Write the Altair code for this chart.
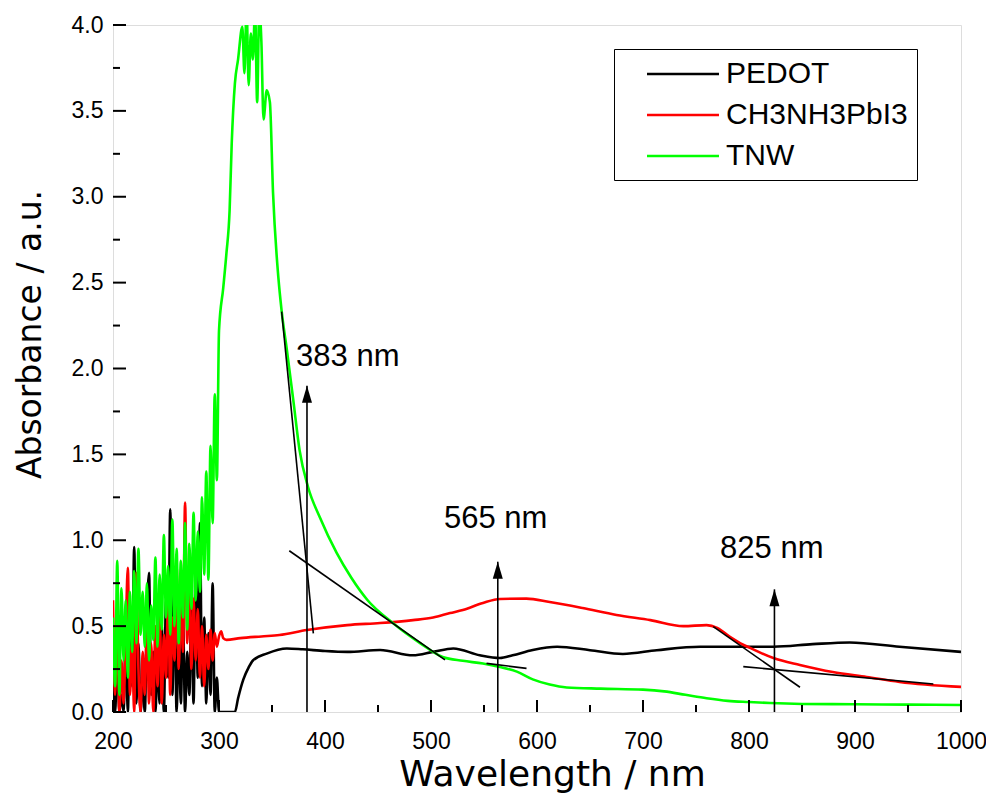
import altair as alt
import pandas as pd

W, H = 848, 687
FONT = "Liberation Sans"
TFONT = "DejaVu Sans"

# ---------------- data ----------------
noise_wl = list(range(200, 300, 2))

pedot_noise = [0.20, 0.00, 0.35, 0.00, 0.10, 0.00, 0.45, 0.00, 0.60, 0.15,
               0.96, 0.05, 0.40, 0.00, 0.20, 0.00, 0.55, 0.81, 0.10, 0.35,
               0.00, 0.30, 0.05, 0.50, 0.00, 0.65, 0.20, 1.18, 0.10, 0.70,
               0.00, 0.45, 0.05, 0.55, 0.00, 0.35, 0.10, 0.60, 0.05, 0.85,
               0.20, 1.10, 0.15, 0.55, 0.05, 0.46, 0.10, 0.75, 0.00, 0.20]
pedot_wl = [300, 305, 310, 315, 318, 323, 328, 332, 345, 364, 379, 400, 421, 452,
            483, 502, 521, 546, 565, 577, 596, 619, 650, 681, 713, 754, 801, 823,
            860, 895, 942, 1000]
pedot_abs = [0.0, 0.0, 0.0, 0.0, 0.08, 0.19, 0.26, 0.30, 0.34, 0.37, 0.365, 0.355,
             0.35, 0.361, 0.33, 0.35, 0.37, 0.33, 0.314, 0.33, 0.361, 0.38, 0.36,
             0.338, 0.36, 0.38, 0.38, 0.38, 0.395, 0.405, 0.38, 0.35]

mapi_noise = [0.65, 0.10, 0.55, 0.00, 0.30, 0.05, 0.45, 0.84, 0.10, 0.40,
              0.00, 0.81, 0.25, 0.00, 0.35, 0.10, 0.55, 0.05, 0.40, 0.00,
              0.50, 0.15, 0.62, 0.05, 0.45, 0.20, 0.70, 0.10, 0.55, 0.30,
              0.85, 0.25, 0.65, 0.35, 1.22, 0.40, 0.75, 0.25, 0.66, 0.30,
              0.60, 0.20, 0.50, 0.15, 0.45, 0.25, 0.48, 0.30, 0.46, 0.38]
mapi_wl = [300, 302, 304, 307, 320, 340, 357, 383, 421, 452, 483, 502, 518, 530,
           549, 565, 590, 612, 643, 675, 707, 738, 760, 770, 782, 792, 801, 823,
           848, 879, 911, 942, 1000]
mapi_abs = [0.44, 0.47, 0.43, 0.42, 0.43, 0.44, 0.448, 0.477, 0.506, 0.518, 0.535,
            0.55, 0.576, 0.594, 0.635, 0.658, 0.66, 0.64, 0.605, 0.565, 0.535, 0.50,
            0.506, 0.49, 0.437, 0.40, 0.373, 0.314, 0.274, 0.233, 0.204, 0.175, 0.146]

tnw_noise = [0.55, 0.15, 0.88, 0.10, 0.72, 0.30, 0.65, 0.20, 0.70, 0.35,
             0.82, 0.40, 0.95, 0.45, 0.70, 0.38, 0.75, 0.30, 0.62, 0.42,
             0.90, 0.38, 0.80, 0.48, 1.03, 0.55, 0.85, 0.45, 1.12, 0.50,
             0.95, 0.40, 0.88, 0.55, 1.10, 0.48, 0.98, 0.60, 1.16, 0.65,
             1.05, 0.70, 1.25, 0.80, 1.40, 0.77, 1.55, 1.10, 1.85, 1.35]
tnw_wl = [300, 304, 307, 310, 312, 315, 318, 322, 324, 326, 328, 330, 332, 334, 336,
          338, 340, 342, 345, 348, 351, 356, 359, 364, 370, 376, 384, 395, 411, 425,
          440, 464, 490, 511, 530, 549, 565, 581, 596, 612, 628, 660, 700, 720, 740,
          760, 780, 800, 820, 850, 900, 950, 1000]
tnw_abs = [2.22, 2.47, 2.67, 2.92, 3.31, 3.66, 3.80, 3.99, 3.72, 4.10, 3.65, 3.95,
           3.80, 4.10, 3.55, 4.10, 3.90, 3.45, 3.62, 3.55, 3.02, 2.53, 2.34, 2.11,
           1.82, 1.525, 1.31, 1.135, 0.926, 0.78, 0.652, 0.518, 0.40, 0.320, 0.298,
           0.282, 0.262, 0.235, 0.190, 0.16, 0.143, 0.136, 0.13, 0.12, 0.10, 0.08,
           0.065, 0.058, 0.052, 0.047, 0.045, 0.043, 0.041]

series_names = ["PEDOT", "CH3NH3PbI3", "TNW"]
series_colors = ["#000000", "#ff0000", "#00ff00"]

# tangent lines
tan_x1 = [359.1, 366.3, 552.4, 766.3, 794.6]
tan_y1 = [2.331, 0.939, 0.283, 0.497, 0.264]
tan_x2 = [389.0, 513.2, 590.1, 848.1, 973.9]
tan_y2 = [0.458, 0.303, 0.254, 0.144, 0.163]

# arrows and labels
arrow_x = [383, 563, 824]
arrow_tip = [1.90, 0.875, 0.714]
label_text = ["383 nm", "565 nm", "825 nm"]
label_x = [421.5, 561.0, 821.5]
label_y = [2.067, 1.124, 0.949]

x_major = list(range(200, 1001, 100))
x_minor = list(range(250, 1000, 100))
y_major = [0.0, 0.5, 1.0, 1.5, 2.0, 2.5, 3.0, 3.5, 4.0]
y_minor = [0.25, 0.75, 1.25, 1.75, 2.25, 2.75, 3.25, 3.75]

# ---------------- build tables ----------------
def series_df(name, wl, ab):
    return pd.DataFrame({"wl": wl, "abs": ab, "series": name})

df_pedot = series_df("PEDOT", noise_wl + pedot_wl, pedot_noise + pedot_abs)
df_mapi = series_df("CH3NH3PbI3", noise_wl + mapi_wl, mapi_noise + mapi_abs)
df_tnw = series_df("TNW", noise_wl + tnw_wl, tnw_noise + tnw_abs)

xs = alt.Scale(domain=[200, 1000], nice=False, zero=False)
ys = alt.Scale(domain=[0, 4], nice=False, zero=False)
cs = alt.Scale(domain=series_names, range=series_colors)

x_axis = alt.Axis(values=x_major, format="d", ticks=False, domain=False, grid=False,
                  labelFontSize=23, labelFont=FONT, labelColor="black",
                  labelPadding=18, labelFlush=False,
                  title="Wavelength / nm", titleFontSize=36, titleFont=TFONT,
                  titleFontWeight="normal", titleColor="black",
                  titleX=439, titleY=62, titleBaseline="middle")
y_axis = alt.Axis(values=y_major, format=".1f", ticks=False, domain=False, grid=False,
                  labelFontSize=23, labelFont=FONT, labelColor="black",
                  labelPadding=10,
                  title="Absorbance / a.u.", titleFontSize=33, titleFont=TFONT,
                  titleFontWeight="normal", titleColor="black",
                  titleX=-83, titleY=309, titleAngle=-90, titleAlign="center",
                  titleBaseline="middle")

legend = alt.Legend(title=None, orient="none", legendX=501, legendY=24,
                    symbolType="M-2.5,0L2.5,0", symbolSize=829, symbolStrokeWidth=2.5,
                    labelFontSize=30, labelFont=FONT, labelColor="black",
                    labelLimit=400, labelOffset=27, rowPadding=10, padding=9,
                    strokeColor="black", fillColor="white", symbolOffset=44)


def X(field):
    return alt.X(field, scale=xs, axis=x_axis)


def Y(field):
    return alt.Y(field, scale=ys, axis=y_axis)


def line_layer(df):
    return alt.Chart(df).mark_line(strokeWidth=2.6, clip=True,
                                   interpolate="monotone").encode(
        x=X("wl:Q"), y=Y("abs:Q"),
        color=alt.Color("series:N", scale=cs, legend=legend))


lines = [line_layer(df_pedot), line_layer(df_mapi), line_layer(df_tnw)]

tan_df = pd.DataFrame({"x1": tan_x1, "y1": tan_y1, "x2": tan_x2, "y2": tan_y2})
tangents = alt.Chart(tan_df).mark_rule(color="black", strokeWidth=1.6).encode(
    x=X("x1:Q"), y=Y("y1:Q"), x2="x2:Q", y2="y2:Q")

arr_df = pd.DataFrame({"x": arrow_x, "tip": arrow_tip, "base": [0, 0, 0]})
arrow_shafts = alt.Chart(arr_df).mark_rule(color="black", strokeWidth=1.6).encode(
    x=X("x:Q"), y=Y("base:Q"), y2="tip:Q")
arrow_heads = alt.Chart(arr_df).mark_point(
    shape="M0,0L0.59,2L-0.59,2Z", filled=True, color="black", opacity=1,
    size=289, strokeWidth=0).encode(x=X("x:Q"), y=Y("tip:Q"))

lab_df = pd.DataFrame({"t": label_text, "x": label_x, "y": label_y})
labels = alt.Chart(lab_df).mark_text(font=FONT, fontSize=31, color="black",
                                     align="center", baseline="middle").encode(
    x=X("x:Q"), y=Y("y:Q"), text="t:N")

# inward ticks
xt_major = alt.Chart(pd.DataFrame({"v": x_major})).mark_rule(
    color="black", strokeWidth=2).encode(
    x=X("v:Q"), y=alt.value(H), y2=alt.value(H - 12))
xt_minor = alt.Chart(pd.DataFrame({"v": x_minor})).mark_rule(
    color="black", strokeWidth=2).encode(
    x=X("v:Q"), y=alt.value(H), y2=alt.value(H - 7))
yt_major = alt.Chart(pd.DataFrame({"v": y_major})).mark_rule(
    color="black", strokeWidth=2).encode(
    y=Y("v:Q"), x=alt.value(0), x2=alt.value(13))
yt_minor = alt.Chart(pd.DataFrame({"v": y_minor})).mark_rule(
    color="black", strokeWidth=2).encode(
    y=Y("v:Q"), x=alt.value(0), x2=alt.value(7))

chart = alt.layer(
    *lines, tangents, arrow_shafts, arrow_heads, labels,
    xt_major, xt_minor, yt_major, yt_minor
).properties(
    width=W, height=H,
    autosize=alt.AutoSizeParams(type="none"),
    padding={"left": 105, "top": 17, "right": 25, "bottom": 84},
).configure_view(
    stroke="black", strokeWidth=2.2
).configure(background="white")

chart.save("out.html", embed_options={"renderer": "svg", "actions": False})
